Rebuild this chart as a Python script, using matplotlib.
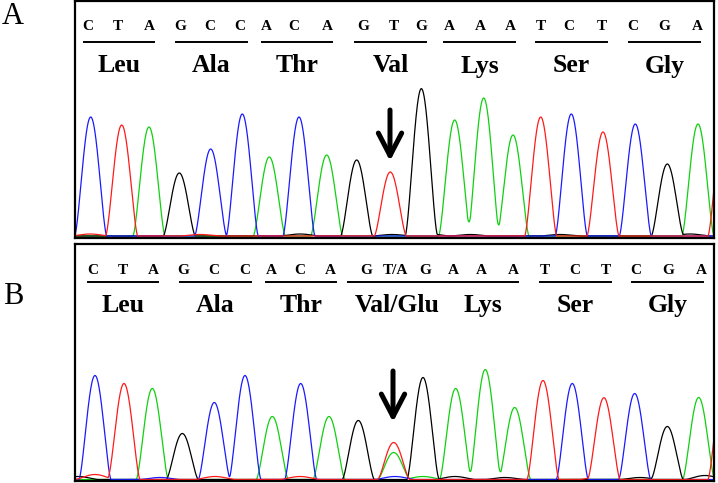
import numpy as np
import matplotlib.pyplot as plt

# base calls and codons (same read in both panels)
bases = list("CTAGCCACAGTGAAATCTCGA")
codons_a = ["Leu", "Ala", "Thr", "Val", "Lys", "Ser", "Gly"]
codons_b = ["Leu", "Ala", "Thr", "Val/Glu", "Lys", "Ser", "Gly"]
bases_b = list("CTAGCCACAG") + ["T/A"] + list("GAAATCTCGA")

# label positions (scan units)
base_x_a = [88, 118, 149, 180, 210, 240, 266, 294, 327, 363, 394, 421,
            449, 480, 510, 541, 569, 602, 633, 664, 697]
base_x_b = [93, 123, 153, 183, 214, 245, 271, 300, 330, 366, 395, 425,
            453, 481, 513, 545, 575, 606, 636, 668, 701]
codon_span_a = [(84, 154), (176, 247), (262, 332), (355, 426), (444, 515), (536, 607), (629, 700)]
codon_span_b = [(88, 158), (180, 251), (266, 336), (348, 446), (447, 518), (540, 611), (632, 703)]

# peaks: position, dye, height
peak_pos_a = [90.7, 121.7, 149, 179.3, 210.7, 242.3, 269.3, 299, 326.7, 356.7, 390.3, 421.3,
              454.7, 483.7, 513, 540.7, 571.3, 603, 635.3, 667.3, 698, 724]
peak_dye_a = list("CTAGCCACAGTGAAATCTCGA") + ["T"]
peak_h_a = [119, 111, 109, 63, 87, 122, 79, 119, 81, 76, 64, 146,
            116, 138, 101, 119, 122, 104, 112, 72, 112, 115]

peak_pos_b = [95, 124, 152.3, 182.3, 214.3, 245, 272.3, 300.7, 329, 358.3, 393.7, 393.7, 423,
              455.7, 485.3, 514.7, 543, 572.3, 604, 634.7, 667.3, 698.7, 724]
peak_dye_b = list("CTAGCCACAG") + ["T", "A"] + list("GAAATCTCGA") + ["T"]
peak_h_b = [104, 96, 91, 46, 77, 104, 63, 96, 63, 59, 37, 27, 102,
            91, 110, 72, 99, 96, 79, 86, 53, 82, 100]

# low background bumps
noise_pos_a = [90, 200, 300, 392, 430, 470, 560, 690]
noise_dye_a = list("TTGGGGGG")
noise_h_a = [2, 1.5, 2, 1.5, 2, 1.5, 1.5, 2]
noise_pos_b = [78, 95, 160, 215, 300, 395, 423, 455, 505, 600, 640, 705]
noise_dye_b = list("GTCTTCAGGTGG")
noise_h_b = [3, 5, 2, 3, 3, 3, 3, 3, 2, 3, 2, 4]

colors = {"C": "#1a1aff", "T": "#ff1a1a", "A": "#10d010", "G": "#000000"}
half_base = 16.0

fig = plt.figure(figsize=(7.18, 4.83), dpi=100)
W, H = 718, 483


def peak_shape(x, p, h, w):
    u = np.clip(np.abs(x - p) / w, 0, 1)
    return h * np.cos(np.pi * u / 2) ** 1.5


def panel(box, baseline, pos, dye, hts, npos, ndye, nh, bx, blabels, spans, aas,
          ys, arrow, letter, name):
    x0, y0, x1, y1 = box
    ax = fig.add_axes([x0 / W, 1 - y1 / H, (x1 - x0) / W, (y1 - y0) / H])
    ax.set_xlim(x0, x1)
    ax.set_ylim(baseline - y1, baseline - y0)
    x = np.linspace(x0, x1, 2500)
    for d in "AGCT":
        y = np.zeros_like(x)
        for p, dd, h in zip(pos, dye, hts):
            if dd == d:
                y += peak_shape(x, p, h, half_base)
        for p, dd, h in zip(npos, ndye, nh):
            if dd == d:
                y += peak_shape(x, p, h, 20)
        ax.plot(x, y, color=colors[d], lw=0.9)
    ax.set_xticks([])
    ax.set_yticks([])
    for s in ax.spines.values():
        s.set_linewidth(1.6)
    yl, yline, yaa = [baseline - v for v in ys]
    for xx, b in zip(bx, blabels):
        ax.text(xx, yl, b, ha="center", va="center", fontsize=11,
                fontweight="bold", family="Liberation Serif")
    for (a, b), aa in zip(spans, aas):
        ax.plot([a, b], [yline, yline], color="black", lw=1.4)
        ax.text((a + b) / 2, yaa, aa, ha="center", va="center", fontsize=18.5,
                fontweight="bold", family="Liberation Serif")
    ax_x, ay0, ay1 = arrow
    ax.annotate("", xy=(ax_x, baseline - ay1), xytext=(ax_x, baseline - ay0),
                arrowprops=dict(arrowstyle="->,head_length=1.35,head_width=0.7",
                                lw=3.6, color="black", mutation_scale=12,
                                shrinkA=0, shrinkB=0))
    fig.text(13 / W, 1 - letter / H, name, ha="center",
             va="center", fontsize=22, family="Liberation Serif")


panel((75, 1, 714, 238), 236, peak_pos_a, peak_dye_a, peak_h_a,
      noise_pos_a, noise_dye_a, noise_h_a, base_x_a, bases, codon_span_a, codons_a,
      (26, 42, 66), (390, 110, 161), 16, "A")
panel((75, 244, 714, 481), 479.5, peak_pos_b, peak_dye_b, peak_h_b,
      noise_pos_b, noise_dye_b, noise_h_b, base_x_b, bases_b, codon_span_b, codons_b,
      (270, 281.5, 305), (393, 371, 422), 296, "B")

fig.savefig("out.png", dpi=100)
